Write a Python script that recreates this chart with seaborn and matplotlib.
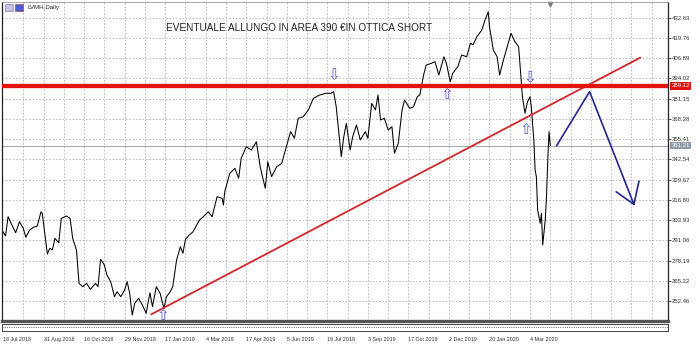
import matplotlib
matplotlib.use("Agg")
import matplotlib.pyplot as plt
import seaborn as sns
import pandas as pd
from matplotlib.transforms import blended_transform_factory
from matplotlib.patches import Rectangle

# ---------------- data ----------------
bars = [0,2,4,7,10,13,16,18,21,24,27,30,31,35,37,39,41,44,46,50,
        53,55,58,60,63,66,69,73,75,77,80,82,85,88,90,93,96,98,100,102,
        104,107,110,113,116,118,121,124,127,129,132,134,137,140,142,144,147,150,155,158,
        162,165,169,173,174,175,179,183,186,188,192,196,200,203,207,209,212,216,220,224,
        227,230,233,237,241,245,250,255,259,261,263,267,269,271,274,276,279,282,286,288,
        291,294,296,298,301,304,307,309,312,315,317,321,324,327,329,332,334,338,341,344,
        348,350,353,355,359,362,366,369,371,374,378,380,383,384,387,390,392,395,398,401,
        404,407,408,410,412,414,416,417,419,420,421,422,424,425,426,428,429,430,431,432]
prices = [296.5,293.8,306.1,300.8,295.9,302.9,298.7,293.0,297.6,299.3,
          300.1,309.2,308.2,282.4,286.0,284.9,292.3,289.5,305.0,306.5,
          305.0,292.3,284.9,263.7,261.6,263.7,259.9,263.7,261.6,279.0,
          275.4,269.0,264.8,255.2,258.4,255.2,259.5,264.8,257.4,243.6,
          251.0,254.2,250.0,244.7,257.7,248.9,261.6,257.4,247.8,255.2,
          258.4,261.6,278.5,287.0,282.8,291.7,294.4,296.5,303.9,306.0,
          309.2,306.0,318.8,317.7,313.5,321.9,333.6,336.8,330.5,343.2,
          350.5,348.4,353.7,337.8,324.1,341.0,331.5,337.8,340.0,351.6,
          360.1,355.9,368.6,369.6,373.9,381.3,383.4,384.5,384.5,385.5,
          376.0,344.2,356.9,365.4,348.4,356.9,364.3,354.8,360.1,355.9,
          378.1,373.9,383.4,367.5,368.6,361.2,363.2,346.3,352.7,373.9,
          380.2,374.9,375.9,382.3,383.4,396.1,402.4,403.5,404.5,396.1,
          407.7,403.5,391.8,397.2,401.4,408.8,407.7,416.3,415.2,420.4,
          424.7,430.0,436.3,426.8,412.0,407.7,396.1,405.6,414.1,422.6,
          417.3,414.1,403.5,382.3,371.8,379.1,382.3,376.0,354.8,335.7,
          331.5,310.3,301.9,308.2,288.1,304.0,318.8,342.1,360.1,351.2]

date_labels = ["18 Jul 2018", "31 Aug 2018", "16 Oct 2018", "29 Nov 2018",
               "17 Jan 2019", "4 Mar 2019", "17 Apr 2019", "5 Jun 2019",
               "19 Jul 2019", "3 Sep 2019", "17 Oct 2019", "2 Dec 2019",
               "20 Jan 2020", "4 Mar 2020"]
date_bars = [0, 32, 64, 96, 128, 160, 192, 224, 256, 288, 320, 352, 384, 416]
price_ticks = [252.46, 265.32, 278.19, 291.06, 303.93, 316.80, 329.67, 342.54,
               355.41, 368.28, 381.15, 394.02, 406.89, 419.76, 432.63]
price_tick_labels = ["252.46", "265.32", "278.19", "291.06", "303.93", "316.80",
                     "329.67", "342.54", "355.41", "368.28", "381.15", "394.02",
                     "406.89", "419.76", "432.63"]

resistance = 389.12
last_price = 351.21
trend_bars = [117, 503]
trend_prices = [244.0, 407.1]
path_bars = [437, 463, 498]
path_prices = [351.2, 385.5, 313.9]
head_left_bars = [484, 498]
head_left_prices = [321.9, 313.9]
head_right_bars = [502, 498]
head_right_prices = [328.7, 313.9]
up_marks_bars = [126, 350, 413]
up_marks_prices = [243.6, 383.4, 361.6]
down_marks_bars = [261, 416]
down_marks_prices = [396.1, 394.6]
title = "EVENTUALE ALLUNGO IN AREA 390 €IN OTTICA SHORT"
symbol_label = "LVMH,Daily"

# ---------------- style ----------------
sns.set_style("white")
plt.rcParams['font.family'] = ['Liberation Sans', 'DejaVu Sans']

W, H = 700, 345
fig = plt.figure(figsize=(7, 3.45), dpi=100)
fig.patch.set_facecolor("white")
ax = fig.add_axes([2 / W, 1 - 321 / H, 666 / W, 319 / H])
sub = fig.add_axes([2 / W, 1 - 331 / H, 666 / W, 7 / H])

xlim = (-0.79, 524.9)
ylim = (239.79, 442.48)

df = pd.DataFrame({"bar": bars, "price": prices})
sns.lineplot(data=df, x="bar", y="price", ax=ax, color="black", lw=0.75,
             sort=False, estimator=None)

# horizontal resistance + trend line
ax.axhline(resistance, color="#e3140f", lw=3.1, zorder=3)
sns.lineplot(x=trend_bars, y=trend_prices, ax=ax, color="#d3262b", lw=1.3,
             sort=False, estimator=None)
# blue scenario path
for bx, py in [(path_bars, path_prices), (head_left_bars, head_left_prices),
               (head_right_bars, head_right_prices)]:
    sns.lineplot(x=bx, y=py, ax=ax, color="#24248c", lw=1.2, sort=False,
                 estimator=None)
# last price line
ax.axhline(last_price, color="#a0a8b0", lw=0.7, zorder=1)

# arrows
for b, p in zip(up_marks_bars, up_marks_prices):
    ax.text(b, p, "⇧", fontsize=11, color="#5a5ad0", ha="center", va="center",
            family="DejaVu Sans", zorder=5)
for b, p in zip(down_marks_bars, down_marks_prices):
    ax.text(b, p, "⇩", fontsize=11, color="#5a5ad0", ha="center", va="center",
            family="DejaVu Sans", zorder=5)

ax.text(234, 426, title, fontsize=7.2, color="#222222", ha="center", va="center")

ax.set_xlim(xlim)
ax.set_ylim(ylim)
ax.set_xticks(range(16, 525, 16))
ax.set_xticklabels([])
ax.set_yticks(price_ticks)
ax.set_yticklabels(price_tick_labels)
ax.yaxis.tick_right()
ax.tick_params(axis="x", length=0)
ax.tick_params(axis="y", length=2.2, width=0.6, pad=0.8, labelsize=4.3,
               colors="#333333")
ax.grid(True, ls=(0, (2, 2)), color="#b4b4b4", lw=0.6)
ax.set_xlabel("")
ax.set_ylabel("")
for s in ["left", "right"]:
    ax.spines[s].set_color("#222222")
    ax.spines[s].set_linewidth(0.9)
ax.spines["top"].set_color("#9a9a9a")
ax.spines["top"].set_linewidth(0.6)
ax.spines["bottom"].set_color("#555555")
ax.spines["bottom"].set_linewidth(2.4)

trans = blended_transform_factory(ax.transAxes, ax.transData)
ax.text(1.005, resistance, "389.12", transform=trans, fontsize=4.3, color="white",
        ha="left", va="center",
        bbox=dict(boxstyle="square,pad=0.2", fc="#e3140f", ec="none"))
ax.text(1.005, last_price, "351.21", transform=trans, fontsize=4.3, color="white",
        ha="left", va="center",
        bbox=dict(boxstyle="square,pad=0.2", fc="#8c9cab", ec="none"))
ax.plot([432], [441.5], marker="v", ms=3, color="#777777", clip_on=False)

# sub window
sub.set_xlim(xlim)
sub.set_ylim(0, 1)
sub.axhline(0.55, color="#8a8a8a", lw=0.8, ls=(0, (1, 1)))
sub.set_yticks([])
sub.set_xticks(date_bars)
sub.set_xticklabels(date_labels)
for lbl in sub.get_xticklabels():
    lbl.set_ha("left")
sub.tick_params(axis="x", length=2.5, width=0.6, pad=1.5, labelsize=3.9,
                colors="#333333")
for s in sub.spines.values():
    s.set_color("#444444")
    s.set_linewidth(0.7)

# header
fig.text(28 / W, 1 - 7 / H, symbol_label, fontsize=4.4, color="#222222",
         va="center", ha="left")
fig.patches.append(Rectangle((5 / W, 1 - 11 / H), 8 / W, 7 / H,
                             transform=fig.transFigure, fc="#c8c0e8",
                             ec="#7070a0", lw=0.4))
fig.patches.append(Rectangle((15 / W, 1 - 11 / H), 8 / W, 7 / H,
                             transform=fig.transFigure, fc="#4a5ed0",
                             ec="#a03030", lw=0.4))

fig.savefig("out.png", dpi=100, facecolor="white")
